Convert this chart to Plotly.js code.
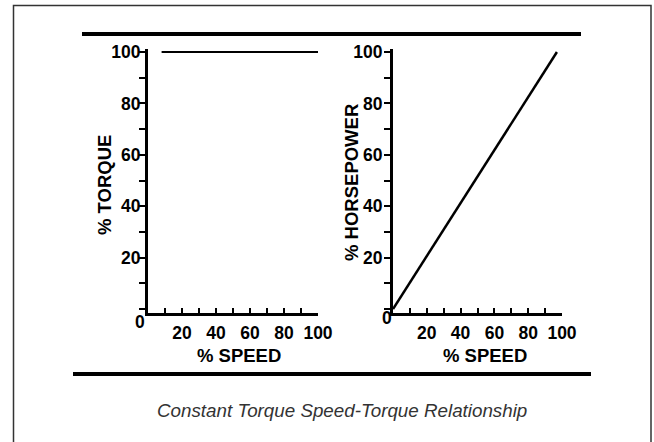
<!DOCTYPE html>
<html>
<head>
<meta charset="utf-8">
<script src="https://cdn.plot.ly/plotly-3.0.1.min.js"></script>
<style>html,body{margin:0;padding:0;background:#fff;}#chart{width:654px;height:442px;}</style>
</head>
<body>
<div id="chart"></div>
<script>
// Data
const torqueSpeed = [8, 100];
const torqueValues = [100, 100];
const hpSpeed = [0, 97];
const hpValues = [0, 100];
const yTickVals = [0, 10, 20, 30, 40, 50, 60, 70, 80, 90, 100];
const yTickText = ['', '', '20', '', '40', '', '60', '', '80', '', '100'];
const xTickVals = [10, 20, 30, 40, 50, 60, 70, 80, 90, 100];
const xTickText = ['', '20', '', '40', '', '60', '', '80', '', '100'];
const leftYTitle = '% TORQUE';
const rightYTitle = '% HORSEPOWER';
const xTitle = '% SPEED';
const caption = 'Constant Torque Speed-Torque Relationship';

const FONT = '"Liberation Sans", Arial, Helvetica, sans-serif';
const W = 654, H = 442;
const px = v => v / W;
const py = v => 1 - v / H;

const tickFont = {family: FONT, size: 17.5, color: '#000', weight: 'bold'};
const titleFont = {family: FONT, size: 18.5, color: '#000', weight: 'bold'};

function xAxis(domain, anchor) {
  return {
    domain: domain, anchor: anchor, range: [0, 100],
    showline: true, linecolor: '#000', linewidth: 3,
    showgrid: false, zeroline: false,
    tickmode: 'array', tickvals: xTickVals, ticktext: xTickText,
    ticks: 'inside', ticklen: 5, tickwidth: 2, tickcolor: '#000',
    tickfont: tickFont, ticklabelstandoff: 2,
    fixedrange: true
  };
}
function yAxis(anchor, lblStandoff) {
  return {
    domain: [py(312.9), py(49.4)], anchor: anchor, range: [-1.5, 101],
    showline: true, linecolor: '#000', linewidth: 3,
    showgrid: false, zeroline: false,
    tickmode: 'array', tickvals: yTickVals, ticktext: yTickText,
    ticks: 'outside', ticklen: 6, tickwidth: 2, tickcolor: '#000',
    tickfont: tickFont, ticklabelstandoff: lblStandoff,
    fixedrange: true
  };
}

const traces = [
  {x: torqueSpeed, y: torqueValues, xaxis: 'x', yaxis: 'y', mode: 'lines',
   line: {color: '#000', width: 2}, hoverinfo: 'skip', showlegend: false},
  {x: hpSpeed, y: hpValues, xaxis: 'x2', yaxis: 'y2', mode: 'lines',
   line: {color: '#000', width: 2.5}, hoverinfo: 'skip', showlegend: false}
];

function label(x, y, text, font, angle) {
  return {xref: 'paper', yref: 'paper', x: px(x), y: py(y), text: text, showarrow: false,
          xanchor: 'center', yanchor: 'middle', font: font, textangle: angle || 0};
}

const layout = {
  width: W, height: H,
  margin: {l: 0, r: 0, t: 0, b: 0, pad: 0},
  paper_bgcolor: '#fff', plot_bgcolor: 'rgba(0,0,0,0)',
  showlegend: false,
  xaxis: xAxis([px(148), px(318)], 'y'),
  yaxis: yAxis('x', -5),
  xaxis2: xAxis([px(393), px(562)], 'y2'),
  yaxis2: yAxis('x2', -2),
  shapes: [
    {type: 'rect', xref: 'paper', yref: 'paper', x0: px(13.5), x1: px(651), y0: -0.02, y1: py(5.5),
     line: {color: '#333', width: 1.5}, fillcolor: 'rgba(0,0,0,0)'},
    {type: 'line', xref: 'paper', yref: 'paper', x0: px(82), x1: px(581), y0: py(34), y1: py(34),
     line: {color: '#000', width: 4}},
    {type: 'line', xref: 'paper', yref: 'paper', x0: px(73), x1: px(591), y0: py(374), y1: py(374),
     line: {color: '#000', width: 4}}
  ],
  annotations: [
    label(140, 322, '0', tickFont),
    label(387, 318, '0', tickFont),
    label(104, 185, leftYTitle, titleFont, -90),
    label(351, 183, rightYTitle, titleFont, -90),
    label(239, 355, xTitle, titleFont),
    label(485, 355, xTitle, titleFont),
    label(342, 410, caption, {family: FONT, size: 18.8, color: '#333', style: 'italic'})
  ]
};

Plotly.newPlot('chart', traces, layout, {displayModeBar: false, staticPlot: true});
</script>
</body>
</html>
